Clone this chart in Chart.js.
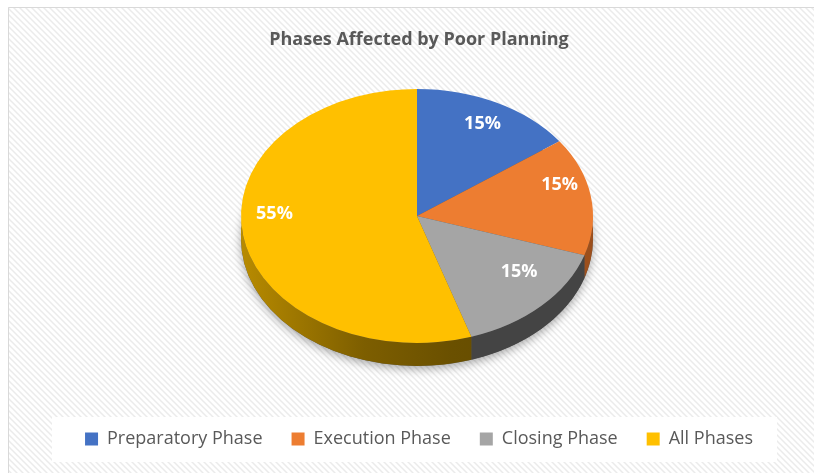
<!DOCTYPE html>
<html>
<head>
<meta charset="utf-8">
<script src="https://cdn.jsdelivr.net/npm/chart.js@4.4.0/dist/chart.umd.min.js"></script>
<style>
    html, body { margin: 0; padding: 0; background: #fff; }
    #wrap { width: 814px; height: 473px; }
</style>
</head>
<body>
<div id="wrap"><canvas id="chartPhases"></canvas></div>
<script>
const phases = ["Preparatory Phase", "Execution Phase", "Closing Phase", "All Phases"];
const shares = [15, 15, 15, 55];

const topColors = ["#4472C4", "#ED7D31", "#A5A5A5", "#FFC000"];
const sideColors = ["#2f4f8a", "#9c4f1c", "#444444", "#7a5c00"];

// where the tilted pie sits on the canvas
const pieX = 417, pieY = 216, pieRx = 176, pieRy = 127, pieDepth = 23;

function hatch(ctx) {
    const p = document.createElement("canvas");
    p.width = 6; p.height = 6;
    const c = p.getContext("2d");
    c.fillStyle = "#ffffff";
    c.fillRect(0, 0, 6, 6);
    c.strokeStyle = "#ebebeb";
    c.lineWidth = 1.5;
    c.beginPath();
    c.moveTo(-1, -1); c.lineTo(7, 7);
    c.moveTo(-4, 2); c.lineTo(4, 10);
    c.moveTo(2, -4); c.lineTo(10, 4);
    c.stroke();
    return ctx.createPattern(p, "repeat");
}

const pie3d = {
    id: "pie3d",
    beforeDraw(chart) {
        const ctx = chart.ctx;
        ctx.save();
        ctx.fillStyle = "#ffffff";
        ctx.fillRect(0, 0, chart.width, chart.height);
        ctx.fillStyle = hatch(ctx);
        ctx.fillRect(8, 7, chart.width, chart.height);
        ctx.strokeStyle = "#d9d9d9";
        ctx.lineWidth = 1;
        ctx.beginPath();
        ctx.moveTo(8.5, chart.height); ctx.lineTo(8.5, 7.5); ctx.lineTo(chart.width, 7.5);
        ctx.stroke();
        // white box behind the legend
        const boxes = chart.legend.legendHitBoxes;
        if (boxes && boxes.length) {
            const first = boxes[0], last = boxes[boxes.length - 1];
            const x0 = first.left - 33, x1 = last.left + last.width + 24;
            const yc = first.top + first.height / 2;
            ctx.fillStyle = "#ffffff";
            ctx.fillRect(x0, yc - 22, x1 - x0, 45);
        }
        ctx.restore();
    },
    beforeDatasetsDraw(chart) {
        const ctx = chart.ctx;
        const arcs = chart.getDatasetMeta(0).data;
        // soft shadow under the disc
        ctx.save();
        ctx.shadowColor = "rgba(0,0,0,0.35)";
        ctx.shadowBlur = 10;
        ctx.shadowOffsetY = 3;
        ctx.fillStyle = "#555";
        ctx.beginPath();
        ctx.ellipse(pieX, pieY + pieDepth, pieRx, pieRy, 0, 0, Math.PI * 2);
        ctx.fill();
        ctx.restore();
        // side walls, only the front half is visible
        const goldSide = ctx.createLinearGradient(pieX - pieRx, 0, pieX + pieRx, 0);
        goldSide.addColorStop(0, "#b88b00");
        goldSide.addColorStop(0.35, "#7d5e00");
        goldSide.addColorStop(0.6, "#6a5000");
        goldSide.addColorStop(1, "#5e4700");
        arcs.forEach((arc, i) => {
            const a = Math.max(arc.startAngle, 0);
            const b = Math.min(arc.endAngle, Math.PI);
            if (b <= a) return;
            ctx.fillStyle = i === 3 ? goldSide : sideColors[i];
            ctx.beginPath();
            ctx.ellipse(pieX, pieY, pieRx, pieRy, 0, a, b);
            ctx.ellipse(pieX, pieY + pieDepth, pieRx, pieRy, 0, b, a, true);
            ctx.closePath();
            ctx.fill();
        });
        // squash the library's pie into the top face
        const r = arcs[0].outerRadius;
        ctx.save();
        ctx.translate(pieX, pieY);
        ctx.scale(pieRx / r, pieRy / r);
        ctx.translate(-arcs[0].x, -arcs[0].y);
    },
    afterDatasetsDraw(chart) {
        const ctx = chart.ctx;
        ctx.restore();
        const arcs = chart.getDatasetMeta(0).data;
        const total = shares.reduce((s, v) => s + v, 0);
        ctx.save();
        ctx.fillStyle = "#ffffff";
        ctx.font = "bold 18px 'Open Sans'";
        ctx.textAlign = "center";
        ctx.textBaseline = "middle";
        arcs.forEach((arc, i) => {
            const mid = (arc.startAngle + arc.endAngle) / 2;
            const s = Math.sin(mid);
            const px = pieX + pieRx * 0.82 * Math.cos(mid);
            const py = pieY + pieRy * 0.82 * s * (s < 0 ? 0.8 : 1) - 18;
            ctx.fillText(Math.round(shares[i] / total * 100) + "%", px, py);
        });
        ctx.restore();
    }
};

new Chart(document.getElementById("chartPhases"), {
    type: "pie",
    data: {
        labels: phases,
        datasets: [{
            data: shares,
            backgroundColor: topColors,
            borderWidth: 0,
            clip: false
        }]
    },
    options: {
        responsive: true,
        maintainAspectRatio: false,
        animation: false,
        events: [],
        layout: { padding: { left: 24, right: 0, top: 0, bottom: 15 } },
        plugins: {
            title: {
                display: true,
                text: "Phases Affected by Poor Planning",
                color: "#595959",
                font: { family: "'Open Sans'", size: 18, weight: "bold" },
                padding: { top: 29, bottom: 10 }
            },
            legend: {
                position: "bottom",
                labels: {
                    color: "#595959",
                    boxWidth: 13,
                    boxHeight: 13,
                    padding: 29,
                    font: { family: "'Open Sans'", size: 18 }
                }
            },
            tooltip: { enabled: false }
        }
    },
    plugins: [pie3d]
});
</script>
</body>
</html>
